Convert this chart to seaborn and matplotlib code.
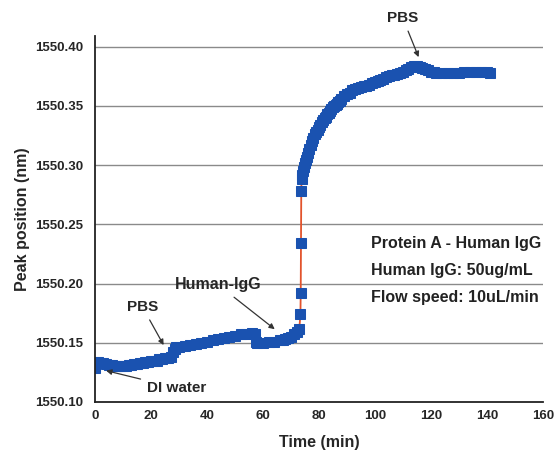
import matplotlib
matplotlib.use("Agg")
import matplotlib.pyplot as plt
import seaborn as sns
import pandas as pd
from matplotlib.ticker import MultipleLocator

# Time (min) and peak position (nm)
time_min = [0, 0.5, 1, 2, 3, 4, 5, 6, 7, 8, 9, 10, 11, 12, 13, 14, 15, 16, 17, 18,
            19, 20, 21, 22, 23, 24, 25, 26, 27, 28, 28.5, 29, 30, 32, 34, 36, 38,
            40, 42, 44, 46, 48, 50, 52, 54, 56, 57, 57.5, 58, 60, 62, 64, 66, 67,
            68, 69, 70, 71, 72, 73, 73.4, 73.5, 73.6, 73.7, 73.8, 74, 74.3, 74.6,
            75, 75.3, 75.6, 76, 76.5, 77, 77.5, 78, 78.5, 79, 79.5, 80, 80.5, 81,
            81.5, 82, 82.5, 83, 83.5, 84, 84.5, 85, 85.5, 86, 86.5, 87, 87.5, 88,
            89, 90, 91, 92, 93, 94, 95, 96, 97, 98, 99, 100, 101, 102, 103, 104,
            105, 106, 107, 108, 109, 110, 111, 112, 113, 114, 115, 116, 117, 118,
            119, 120, 121, 122, 124, 126, 128, 130, 132, 134, 136, 138, 140, 141]
peak_nm = [1550.129, 1550.134, 1550.134, 1550.133, 1550.133, 1550.132, 1550.131,
           1550.131, 1550.130, 1550.130, 1550.130, 1550.130, 1550.130, 1550.131,
           1550.131, 1550.132, 1550.132, 1550.133, 1550.133, 1550.134, 1550.134,
           1550.135, 1550.135, 1550.135, 1550.136, 1550.136, 1550.137, 1550.137,
           1550.138, 1550.142, 1550.145, 1550.146, 1550.146, 1550.147, 1550.148,
           1550.149, 1550.150, 1550.151, 1550.152, 1550.153, 1550.154, 1550.155,
           1550.156, 1550.157, 1550.157, 1550.158, 1550.157, 1550.151, 1550.150,
           1550.150, 1550.151, 1550.151, 1550.152, 1550.152, 1550.153, 1550.154,
           1550.155, 1550.157, 1550.159, 1550.162, 1550.174, 1550.192, 1550.234,
           1550.278, 1550.288, 1550.292, 1550.295, 1550.298, 1550.302, 1550.304,
           1550.307, 1550.310, 1550.314, 1550.317, 1550.320, 1550.323, 1550.326,
           1550.328, 1550.330, 1550.332, 1550.334, 1550.336, 1550.338, 1550.340,
           1550.341, 1550.343, 1550.344, 1550.346, 1550.347, 1550.349, 1550.350,
           1550.351, 1550.352, 1550.353, 1550.354, 1550.356, 1550.358, 1550.360,
           1550.361, 1550.363, 1550.364, 1550.365, 1550.366, 1550.367, 1550.367,
           1550.368, 1550.369, 1550.370, 1550.371, 1550.372, 1550.373, 1550.374,
           1550.375, 1550.376, 1550.376, 1550.377, 1550.378, 1550.379, 1550.380,
           1550.381, 1550.383, 1550.384, 1550.384, 1550.383, 1550.382, 1550.381,
           1550.380, 1550.379, 1550.379, 1550.378, 1550.378, 1550.378, 1550.378,
           1550.378, 1550.379, 1550.379, 1550.379, 1550.379, 1550.379, 1550.378]

y_ticks = [1550.10, 1550.15, 1550.20, 1550.25, 1550.30, 1550.35, 1550.40]
x_ticks = [0, 20, 40, 60, 80, 100, 120, 140, 160]
info_lines = ["Protein A - Human IgG", "Human IgG: 50ug/mL", "Flow speed: 10uL/min"]

sns.set_style("white")
plt.rcParams["font.family"] = ["Liberation Sans", "DejaVu Sans"]
plt.rcParams["font.weight"] = "bold"

df = pd.DataFrame({"time": time_min, "peak": peak_nm})

fig = plt.figure(figsize=(5.55, 4.57), dpi=100)
ax = fig.add_axes([0.1712, 0.1204, 0.8068, 0.8008])

sns.lineplot(data=df, x="time", y="peak", ax=ax, color="#e2532c", linewidth=1.3,
             marker="s", markersize=7, markerfacecolor="#1a52b0",
             markeredgecolor="#1a52b0", sort=False, estimator=None)

ax.set_xlim(0, 160)
ax.set_ylim(1550.10, 1550.409)
ax.set_xticks(x_ticks)
ax.set_yticks(y_ticks)
ax.set_yticklabels([f"{v:.2f}" for v in y_ticks])
ax.xaxis.set_minor_locator(MultipleLocator(10))
ax.yaxis.set_minor_locator(MultipleLocator(0.025))
ax.tick_params(axis="both", which="major", labelsize=9.5, width=1.2, length=5)
ax.tick_params(axis="x", which="both", direction="inout")
ax.tick_params(axis="y", which="both", direction="out")
ax.tick_params(axis="both", which="minor", width=1.2, length=3)
for lab in ax.get_xticklabels() + ax.get_yticklabels():
    lab.set_fontweight("bold")

for v in y_ticks[1:]:
    ax.axhline(v, color="#8a8a8a", linewidth=1.0, zorder=0)

sns.despine(ax=ax, top=True, right=True)
ax.spines["left"].set_linewidth(1.3)
ax.spines["bottom"].set_linewidth(1.3)
ax.spines["left"].set_color("#222222")
ax.spines["bottom"].set_color("#222222")

ax.set_xlabel("Time (min)", fontsize=11.5, fontweight="bold", labelpad=9)
ax.set_ylabel("Peak position (nm)", fontsize=11.5, fontweight="bold", labelpad=4)

arrow = dict(arrowstyle="-|>", color="#333333", lw=0.9, mutation_scale=8)
ax.annotate("PBS", xy=(116, 1550.389), xytext=(110, 1550.424), fontsize=11,
            fontweight="bold", ha="center", va="center", arrowprops=arrow,
            annotation_clip=False)
ax.annotate("PBS", xy=(25, 1550.146), xytext=(17, 1550.180), fontsize=11,
            fontweight="bold", ha="center", va="center", arrowprops=arrow)
ax.annotate("DI water", xy=(3, 1550.127), xytext=(29, 1550.112), fontsize=11,
            fontweight="bold", ha="center", va="center", arrowprops=arrow)
ax.annotate("Human-IgG", xy=(65, 1550.160), xytext=(44, 1550.199), fontsize=11.5,
            fontweight="bold", ha="center", va="center", arrowprops=arrow)

for i, line in enumerate(info_lines):
    ax.text(98.6, 1550.234 - i * 0.0228, line, fontsize=11.5, fontweight="bold",
            ha="left", va="center", color="#222222")

fig.savefig("out.png", dpi=100, facecolor="white")
